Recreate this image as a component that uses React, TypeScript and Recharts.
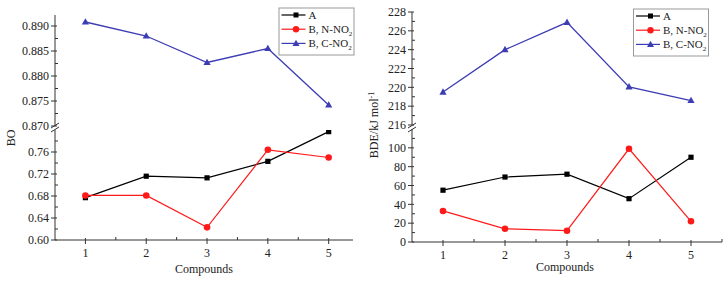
import { LineChart, Line, XAxis, YAxis } from "recharts";

const compounds = [1, 2, 3, 4, 5];

// bond order
const boA = [0.677, 0.716, 0.713, 0.743, 0.797];
const boN = [0.681, 0.681, 0.623, 0.764, 0.75];
const boC = [0.8908, 0.888, 0.8827, 0.8855, 0.8742];

// bond dissociation energy
const bdeA = [55, 69, 72, 46, 90];
const bdeN = [33, 14, 12, 99, 22];
const bdeC = [219.5, 224, 226.9, 220.05, 218.6];

const xMajor = [1, 2, 3, 4, 5];
const xMinorLeft = [1.5, 2.5, 3.5, 4.5];
const xMinorRight = [1.5, 2.5, 3.5, 4.5, 5.5];

const boUpperMajor = [0.87, 0.875, 0.88, 0.885, 0.89];
const boUpperMinor = [0.8725, 0.8775, 0.8825, 0.8875];
const boLowerMajor = [0.6, 0.64, 0.68, 0.72, 0.76];
const boLowerMinor = [0.62, 0.66, 0.7, 0.74, 0.78];

const bdeUpperMajor = [216, 218, 220, 222, 224, 226, 228];
const bdeUpperMinor = [217, 219, 221, 223, 225, 227];
const bdeLowerMajor = [0, 20, 40, 60, 80, 100];
const bdeLowerMinor = [10, 30, 50, 70, 90, 110];

const legendNames = ["A", "B, N-NO", "B, C-NO"];

const boData = compounds.map((c, i) => ({ x: c, A: boA[i], N: boN[i], C: boC[i] }));
const bdeData = compounds.map((c, i) => ({ x: c, A: bdeA[i], N: bdeN[i], C: bdeC[i] }));

const BLACK = "#000000";
const RED = "#ff1a1a";
const BLUE = "#3c3cb4";
const AXIS = "#333333";
const FONT = "'Liberation Serif', 'Times New Roman', serif";
const TS = 4;
const TM = 3;

const isIn = (arr: number[], v: number) => arr.some((a) => Math.abs(a - v) < 1e-9);

const makeXTick = (majors: number[]) => (props: any) => {
  const { x, y, payload } = props;
  const v = payload.value;
  const ay = y - TS - TM;
  if (isIn(majors, v)) {
    return (
      <g>
        <line x1={x} x2={x} y1={ay - 2} y2={ay + 4} stroke={AXIS} />
        <text x={x} y={ay + 8} dy="0.71em" textAnchor="middle" fontSize={12} fontFamily={FONT} fill="#222">
          {v}
        </text>
      </g>
    );
  }
  return <line x1={x} x2={x} y1={ay - 3} y2={ay} stroke={AXIS} />;
};

const makeYTick = (majors: number[], fmt: (v: number) => string) => (props: any) => {
  const { x, y, payload } = props;
  const v = payload.value;
  const ax = x + TS + TM;
  if (isIn(majors, v)) {
    return (
      <g>
        <line x1={ax - 4} x2={ax + 2} y1={y} y2={y} stroke={AXIS} />
        <text x={ax - 6} y={y} dy="0.35em" textAnchor="end" fontSize={12} fontFamily={FONT} fill="#222">
          {fmt(v)}
        </text>
      </g>
    );
  }
  return <line x1={ax} x2={ax + 3} y1={y} y2={y} stroke={AXIS} />;
};

const SquareDot = (p: any) =>
  p.cx == null ? null : <rect x={p.cx - 2.6} y={p.cy - 2.6} width={5.2} height={5.2} fill={BLACK} />;
const CircleDot = (p: any) => (p.cx == null ? null : <circle cx={p.cx} cy={p.cy} r={3.3} fill={RED} />);
const TriDot = (p: any) =>
  p.cx == null ? null : (
    <polygon points={`${p.cx},${p.cy - 3.8} ${p.cx + 3.6},${p.cy + 2.6} ${p.cx - 3.6},${p.cy + 2.6}`} fill={BLUE} />
  );

const axisProps = { stroke: AXIS, tickLine: false, tickSize: TS, tickMargin: TM, interval: 0 as const };

const Legend = ({ left, top }: { left: number; top: number }) => {
  const markers = [
    <rect x={12} y={-2.5} width={5} height={5} fill={BLACK} />,
    <circle cx={14.5} cy={0} r={3.2} fill={RED} />,
    <polygon points="14.5,-3.6 18,2.5 11,2.5" fill={BLUE} />,
  ];
  const colors = [BLACK, RED, BLUE];
  return (
    <g transform={`translate(${left},${top})`}>
      <rect x={0} y={0} width={75} height={47} fill="#fff" stroke="#999" />
      {legendNames.map((n, i) => (
        <g key={n} transform={`translate(2.5,${7 + i * 14.2})`}>
          <line x1={0} x2={24} y1={0} y2={0} stroke={colors[i]} strokeWidth={1.2} />
          {markers[i]}
          <text x={27} y={0} dy="0.35em" fontSize={11} fontFamily={FONT} fill="#222">
            {n}
            {i > 0 && (
              <tspan fontSize={7} dy="3">
                2
              </tspan>
            )}
          </text>
        </g>
      ))}
    </g>
  );
};

export default function App() {
  return (
    <div style={{ position: "absolute", left: 0, top: 0, width: 728, height: 281, background: "#fff" }}>
      {/* left panel: bond order */}
      <div style={{ position: "absolute", left: 0, top: 0 }}>
        <LineChart width={364} height={140} data={boData} margin={{ top: 15, right: 11, bottom: 14, left: 0 }}>
          <XAxis dataKey="x" type="number" domain={[0.5, 5.4]} hide />
          <YAxis
            {...axisProps}
            width={55}
            domain={[0.87, 0.8922]}
            allowDataOverflow
            ticks={[...boUpperMajor, ...boUpperMinor]}
            tick={makeYTick(boUpperMajor, (v) => v.toFixed(3))}
          />
          <Line dataKey="C" stroke={BLUE} strokeWidth={1.3} dot={<TriDot />} isAnimationActive={false} />
        </LineChart>
      </div>
      <div style={{ position: "absolute", left: 0, top: 126 }}>
        <LineChart width={364} height={155} data={boData} margin={{ top: 4, right: 11, bottom: 0, left: 0 }}>
          <XAxis
            {...axisProps}
            dataKey="x"
            type="number"
            domain={[0.5, 5.4]}
            height={41}
            ticks={[...xMajor, ...xMinorLeft]}
            tick={makeXTick(xMajor)}
          />
          <YAxis
            {...axisProps}
            width={55}
            domain={[0.6, 0.8]}
            allowDataOverflow
            ticks={[...boLowerMajor, ...boLowerMinor]}
            tick={makeYTick(boLowerMajor, (v) => v.toFixed(2))}
          />
          <Line dataKey="A" stroke={BLACK} strokeWidth={1.2} dot={<SquareDot />} isAnimationActive={false} />
          <Line dataKey="N" stroke={RED} strokeWidth={1.2} dot={<CircleDot />} isAnimationActive={false} />
        </LineChart>
      </div>

      {/* right panel: BDE */}
      <div style={{ position: "absolute", left: 364, top: 0 }}>
        <LineChart width={364} height={140} data={bdeData} margin={{ top: 12, right: 6, bottom: 15, left: 0 }}>
          <XAxis dataKey="x" type="number" domain={[0.5, 5.5]} hide />
          <YAxis
            {...axisProps}
            width={48}
            domain={[216, 228]}
            allowDataOverflow
            ticks={[...bdeUpperMajor, ...bdeUpperMinor]}
            tick={makeYTick(bdeUpperMajor, (v) => String(v))}
          />
          <Line dataKey="C" stroke={BLUE} strokeWidth={1.3} dot={<TriDot />} isAnimationActive={false} />
        </LineChart>
      </div>
      <div style={{ position: "absolute", left: 364, top: 126 }}>
        <LineChart width={364} height={155} data={bdeData} margin={{ top: 3, right: 6, bottom: 0, left: 0 }}>
          <XAxis
            {...axisProps}
            dataKey="x"
            type="number"
            domain={[0.5, 5.5]}
            height={39}
            ticks={[...xMajor, ...xMinorRight]}
            tick={makeXTick(xMajor)}
          />
          <YAxis
            {...axisProps}
            width={48}
            domain={[0, 120]}
            allowDataOverflow
            ticks={[...bdeLowerMajor, ...bdeLowerMinor]}
            tick={makeYTick(bdeLowerMajor, (v) => String(v))}
          />
          <Line dataKey="A" stroke={BLACK} strokeWidth={1.2} dot={<SquareDot />} isAnimationActive={false} />
          <Line dataKey="N" stroke={RED} strokeWidth={1.2} dot={<CircleDot />} isAnimationActive={false} />
        </LineChart>
      </div>

      {/* overlay: axis breaks, axis titles, legends */}
      <svg width={728} height={281} style={{ position: "absolute", left: 0, top: 0, pointerEvents: "none" }}>
        <g stroke={AXIS} strokeWidth={1}>
          <line x1={51} y1={128} x2={59} y2={123} />
          <line x1={51} y1={132} x2={59} y2={127} />
          <line x1={408} y1={128} x2={416} y2={123} />
          <line x1={408} y1={132} x2={416} y2={127} />
        </g>
        <text transform="translate(15,138) rotate(-90)" textAnchor="middle" fontSize={12} fontFamily={FONT} fill="#222">
          BO
        </text>
        <text transform="translate(378,125) rotate(-90)" textAnchor="middle" fontSize={12} fontFamily={FONT} fill="#222">
          BDE/kJ mol
          <tspan fontSize={8} dy="-4">
            -1
          </tspan>
        </text>
        <text x={204} y={269} dy="0.35em" textAnchor="middle" fontSize={12} fontFamily={FONT} fill="#222">
          Compounds
        </text>
        <text x={565} y={267} dy="0.35em" textAnchor="middle" fontSize={12} fontFamily={FONT} fill="#222">
          Compounds
        </text>
        <Legend left={279} top={8} />
        <Legend left={633.5} top={9} />
      </svg>
    </div>
  );
}
